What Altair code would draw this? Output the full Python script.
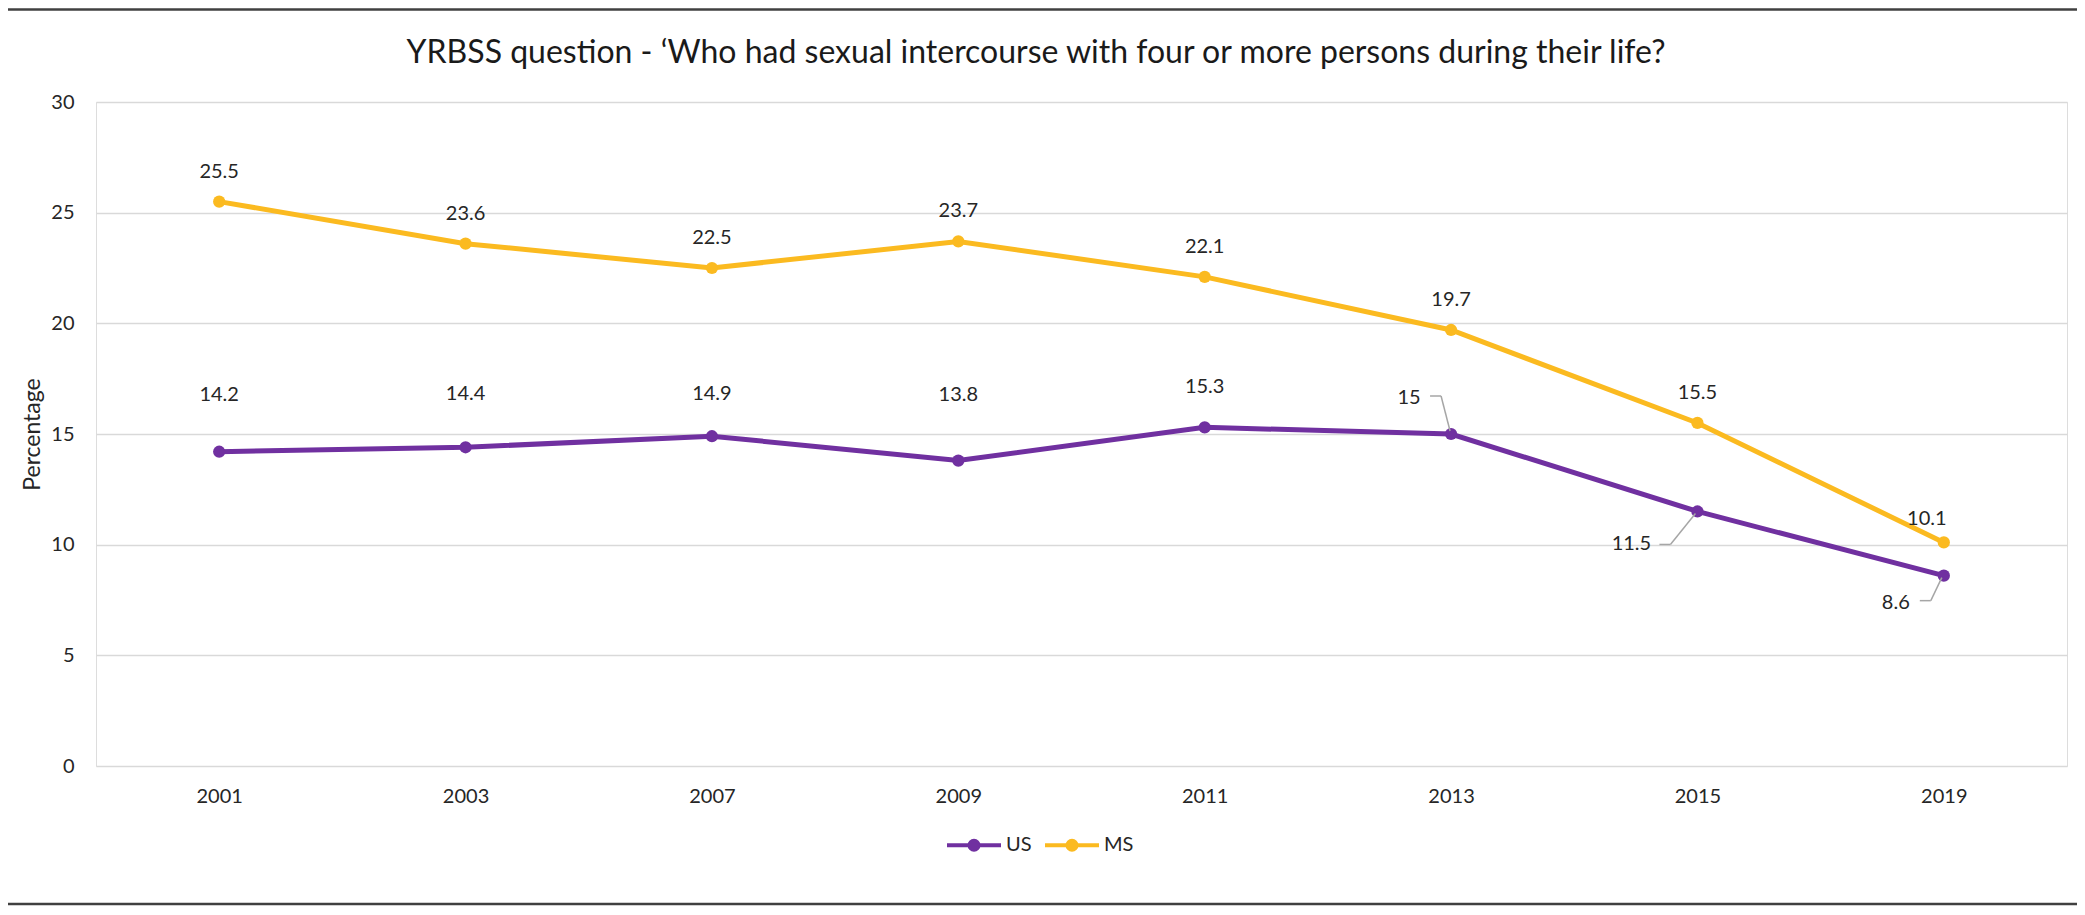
import altair as alt
import pandas as pd

# ---- data ----
years = ["2001", "2003", "2007", "2009", "2011", "2013", "2015", "2019"]
us_values = [14.2, 14.4, 14.9, 13.8, 15.3, 15.0, 11.5, 8.6]
ms_values = [25.5, 23.6, 22.5, 23.7, 22.1, 19.7, 15.5, 10.1]
series_names = ["US", "MS"]
y_ticks = [0, 5, 10, 15, 20, 25, 30]
title_text = "YRBSS question - \u2018Who had sexual intercourse with four or more persons during their life?"
y_title = "Percentage"

# ---- styles ----
series_colors = ["#7030A0", "#FBBA20"]
FONT = "Lato"
TEXT = "#262626"
# label pixel offsets (dx, dy) per series/year
us_label_offsets = [(0, -57), (0, -53), (0, -42), (0, -66), (0, -40), (-42, -36), (-66, 33), (-48, 27)]
ms_label_offsets = [(0, -30)] * 7 + [(-17, -23)]
# leader lines: (series, year, [(x0,y0),(x1,y1),(x2,y2)]) pixel offsets from point
leaders = [
    ("US", "2013", [(-21, -38), (-10, -38), (-1, -3)]),
    ("US", "2015", [(-38, 33), (-27, 33), (-2, 2)]),
    ("US", "2019", [(-24, 25), (-13, 25), (-2, 2)]),
]

W, H = 1971, 664
PAD = {"left": 88, "top": 94, "right": 10, "bottom": 141}

df = pd.DataFrame({
    "year": years * 2,
    "series": [series_names[0]] * len(years) + [series_names[1]] * len(years),
    "value": us_values + ms_values,
})

x_enc = alt.X("year:O", sort=years,
              scale=alt.Scale(type="point", padding=0.5),
              axis=alt.Axis(title=None, labelAngle=0, domain=False, ticks=False,
                            labelPadding=20, labelFontSize=20, labelFont=FONT,
                            labelColor=TEXT, grid=False))
y_enc = alt.Y("value:Q",
              scale=alt.Scale(domain=[0, 30], nice=False, zero=True),
              axis=alt.Axis(values=y_ticks, title=y_title, grid=True,
                            gridColor="#D9D9D9", gridWidth=1.5, domain=False,
                            ticks=False, labelPadding=22, labelFontSize=20,
                            labelFont=FONT, labelColor=TEXT,
                            titleFont=FONT, titleFontSize=23, titleFontWeight="normal",
                            titleColor=TEXT, titleX=-64, titleY=H / 2,
                            titleBaseline="middle", titleAngle=270))

legend_path = ("M-1,0H1"
               "M-0.167,0A0.167,0.167,0,1,0,0.167,0A0.167,0.167,0,1,0,-0.167,0"
               "M-0.09,0A0.09,0.09,0,1,0,0.09,0A0.09,0.09,0,1,0,-0.09,0"
               "M-0.02,0A0.02,0.02,0,1,0,0.02,0A0.02,0.02,0,1,0,-0.02,0")
legend = alt.Legend(orient="none", legendX=849, legendY=714, direction="horizontal",
                    title=None, symbolType=legend_path, symbolSize=2916,
                    symbolStrokeWidth=4, symbolOpacity=1, labelFontSize=20,
                    labelFont=FONT, labelColor=TEXT, labelOffset=3, columnPadding=5)
color_enc = alt.Color("series:N", sort=series_names,
                      scale=alt.Scale(domain=series_names, range=series_colors),
                      legend=legend)

base = alt.Chart(df).encode(x=x_enc, y=y_enc, color=color_enc)
line = base.mark_line(strokeWidth=5)
pts = base.mark_point(filled=True, size=150, opacity=1)

layers = [line, pts]

for sname, offsets in ((series_names[0], us_label_offsets), (series_names[1], ms_label_offsets)):
    for yr, (dx, dy) in zip(years, offsets):
        layers.append(
            alt.Chart(df)
            .transform_filter((alt.datum.series == sname) & (alt.datum.year == yr))
            .mark_text(dx=dx, dy=dy, font=FONT, fontSize=20, color=TEXT,
                       baseline="middle", align="center")
            .encode(x=x_enc, y=y_enc, text=alt.Text("value:Q"))
        )

for sname, yr, pts_off in leaders:
    for (ax, ay), (bx, by) in zip(pts_off[:-1], pts_off[1:]):
        layers.append(
            alt.Chart(df)
            .transform_filter((alt.datum.series == sname) & (alt.datum.year == yr))
            .mark_rule(color="#A6A6A6", strokeWidth=1.5,
                       xOffset=ax, yOffset=ay, x2Offset=bx, y2Offset=by)
            .encode(x=x_enc, x2=alt.X2("year"), y=y_enc, y2=alt.Y2("value"))
        )

one = pd.DataFrame({"title": [title_text]})
# chart title as a text mark, centred on the page
title_mark = alt.Chart(one).mark_text(
    font=FONT, fontSize=32, color="#1a1a1a", align="center", baseline="middle"
).encode(x=alt.value(940), y=alt.value(-49), text="title:N")
top_rule = alt.Chart(one).mark_rule(color="#404040", strokeWidth=2.5).encode(
    x=alt.value(-PAD["left"]), x2=alt.value(W + PAD["right"]), y=alt.value(-PAD["top"] + 1.5))
bottom_rule = alt.Chart(one).mark_rule(color="#404040", strokeWidth=2.5).encode(
    x=alt.value(-PAD["left"]), x2=alt.value(W + PAD["right"]), y=alt.value(H + PAD["bottom"] - 3))
layers += [title_mark, top_rule, bottom_rule]

chart = alt.layer(*layers).properties(
    width=W, height=H,
    autosize=alt.AutoSizeParams(type="none"),
    padding=PAD,
).configure_view(stroke=None).configure(background="white")

chart.save("out.html", embed_options={"renderer": "svg", "actions": False})
